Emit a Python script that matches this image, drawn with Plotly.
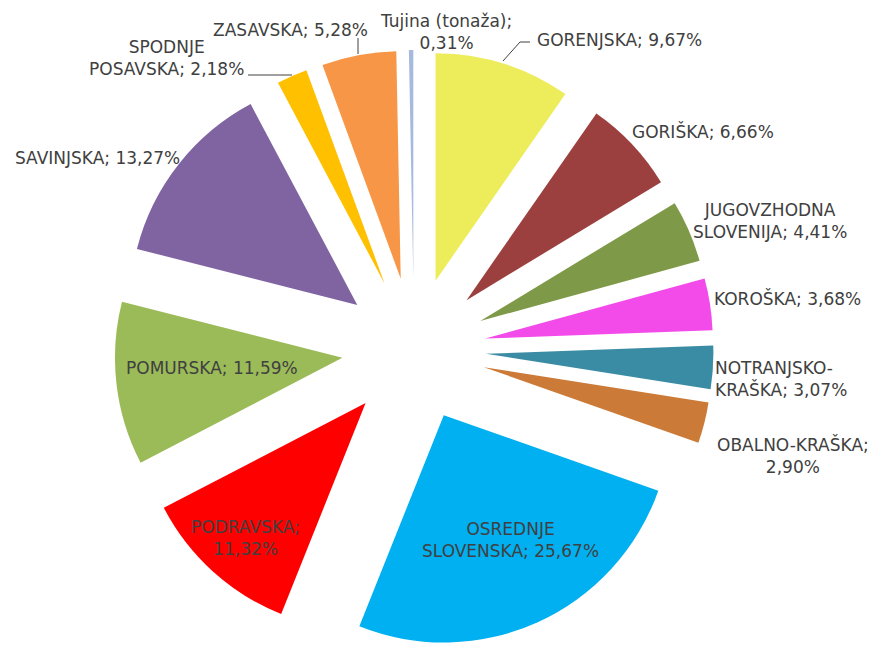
import plotly.graph_objects as go

# ---- data ----
regions = ["GORENJSKA", "GORIŠKA", "JUGOVZHODNA SLOVENIJA", "KOROŠKA",
           "NOTRANJSKO-KRAŠKA", "OBALNO-KRAŠKA", "OSREDNJE SLOVENSKA",
           "PODRAVSKA", "POMURSKA", "SAVINJSKA", "SPODNJE POSAVSKA",
           "ZASAVSKA", "Tujina (tonaža)"]
shares = [9.67, 6.66, 4.41, 3.68, 3.07, 2.90, 25.67, 11.32, 11.59, 13.27, 2.18, 5.28, 0.31]
# label display text (line breaks as in the original)
label_text = ["GORENJSKA", "GORIŠKA", "JUGOVZHODNA<br>SLOVENIJA", "KOROŠKA",
              "NOTRANJSKO-<br>KRAŠKA", "OBALNO-KRAŠKA;<br>", "OSREDNJE<br>SLOVENSKA",
              "PODRAVSKA;<br>", "POMURSKA", "SAVINJSKA", "SPODNJE<br>POSAVSKA",
              "ZASAVSKA", "Tujina (tonaža);<br>"]

colors = ["#EDEC5A", "#9B403E", "#7E9A48", "#F34BEA", "#3A8CA4", "#CC7A37",
          "#00B0F0", "#FF0000", "#9BBB59", "#8064A2", "#FFC000", "#F79646", "#A6B9DE"]

W, H = 876, 646
ML, MR, MT, MB = 0, 64, 42, 5
PW, PH = W - ML - MR, H - MT - MB
OFF = 8  # page body margin in the browser


def px2paper(x, y):
    return (x - OFF - ML) / PW, 1 - (y - OFF - MT) / PH


fig = go.Figure(go.Pie(
    labels=regions, values=shares, sort=False, direction="clockwise",
    rotation=0, pull=0.317, textinfo="none", hoverinfo="label+percent",
    marker=dict(colors=colors, line=dict(width=0)), showlegend=False,
))

# label anchor positions (pixels in the screenshot)
label_pos = [(619, 40), (703, 131), (770, 221), (787, 298), (713, 379), (793, 455),
             (510, 540), (246, 538), (212, 368), (97, 158), (166, 58), (290, 30), (446, 32)]
anchors = ["center"] * 13
anchors[4] = "left"
aligns = ["center"] * 13
aligns[4] = "left"

annotations = []
for val, txt, (x, y), anc, al in zip(shares, label_text, label_pos, anchors, aligns):
    s = f"{val:.2f}".replace(".", ",") + "%"
    full = txt + s if txt.endswith("<br>") else txt + "; " + s
    xp, yp = px2paper(x, y)
    annotations.append(dict(x=xp, y=yp, xref="paper", yref="paper", text=full,
                            showarrow=False, xanchor=anc, yanchor="middle",
                            align=al, font=dict(family="DejaVu Sans", size=17, color="#404040")))

# leader lines (pixels)
leaders = [
    [(503, 61), (520, 42), (530, 42)],      # GORENJSKA
    [(248, 75), (292, 75)],                 # SPODNJE POSAVSKA
    [(358, 38), (358, 54)],                 # ZASAVSKA
]
shapes = []
for pts in leaders:
    path = ""
    for i, (x, y) in enumerate(pts):
        xp, yp = px2paper(x, y)
        path += ("M" if i == 0 else "L") + f"{xp},{yp} "
    shapes.append(dict(type="path", path=path.strip(), xref="paper", yref="paper",
                       line=dict(color="#404040", width=1)))

fig.update_layout(
    width=W, height=H, margin=dict(l=ML, r=MR, t=MT, b=MB),
    paper_bgcolor="white", plot_bgcolor="white",
    annotations=annotations, shapes=shapes,
)

fig.write_html("out.html")
